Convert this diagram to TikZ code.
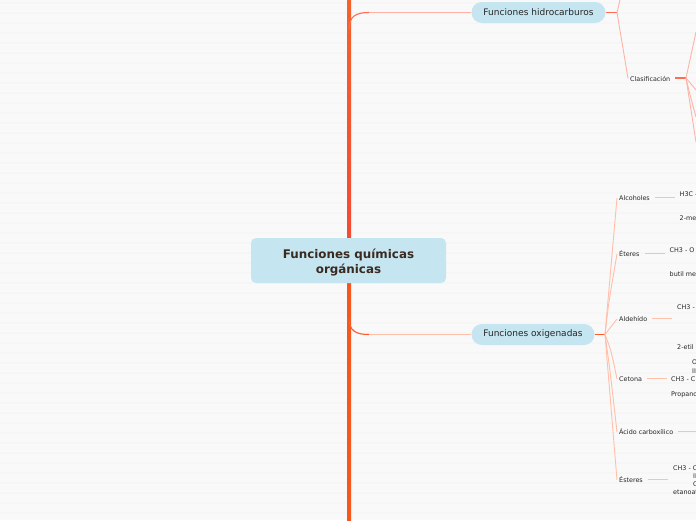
\documentclass[tikz,border=0pt]{standalone}
\usepackage{fontspec}
\setmainfont{DejaVu Sans}
\definecolor{bgc}{HTML}{F9F9F9}
\definecolor{stripe}{HTML}{F6F6F6}
\definecolor{boxc}{HTML}{C5E5F1}
\definecolor{inkc}{HTML}{3A2A20}
\definecolor{linka}{HTML}{FFB3A6}
\definecolor{linkb}{HTML}{FF6B55}
\definecolor{linkc}{HTML}{FFBFA8}
\definecolor{linkd}{HTML}{FF5A2A}
\definecolor{spinea}{HTML}{F4622A}
\definecolor{spineb}{HTML}{F44A36}
\definecolor{spinec}{HTML}{F5581F}
\tikzset{
  x=1pt,y=-1pt,
  hub/.style={draw=none,fill=boxc,rounded corners=5pt,minimum width=195pt,minimum height=45pt,align=center,text=inkc,font=\fontsize{11.9pt}{15pt}\selectfont\bfseries,inner sep=0pt},
  mainbox/.style={draw=none,fill=boxc,rounded corners=10.5pt,minimum height=21pt,text=black!85,font=\fontsize{9pt}{10pt}\selectfont,inner sep=0pt},
  leaf/.style={font=\fontsize{6.4pt}{7pt}\selectfont,text=black!85,inner sep=0pt,anchor=west,yshift=-0.5pt},
  thinred/.style={draw=linka,line width=.9pt},
  thinor/.style={draw=linkc,line width=.9pt},
  stub/.style={draw=linkb,line width=1.1pt},
  stubor/.style={draw=linkd,line width=1.1pt},
  root/.style={line width=1.1pt}
}
\begin{document}
\begin{tikzpicture}
\useasboundingbox (0,0) rectangle (696,520);
\clip (0,0) rectangle (696,520);
\fill[bgc] (0,0) rectangle (696,520);
\foreach \k in {0,...,51}{\fill[stripe] (0,{2+10*\k}) rectangle (696,{4+10*\k});}
% spine
\shade[top color=spinea,middle color=spineb,bottom color=spineb] (347,0) rectangle (351,240);
\shade[top color=spinec,middle color=spinec,bottom color=spinec] (347,280) rectangle (351,520);
\coordinate (spineA) at (349,30);
\coordinate (spineB) at (349,318);
\coordinate (bendA) at (369,12.5);
\coordinate (bendB) at (369,334.5);
% nodes
\node[hub] (hubn) at (348.5,260.5) {\rule{0pt}{13pt}Funciones químicas\\orgánicas};
\node[mainbox,minimum width=134pt] (hc) at (538.5,12.5) {Funciones hidrocarburos};
\node[mainbox,minimum width=123pt] (ox) at (533,334.5) {Funciones oxigenadas};
\coordinate (jh) at (617,12.5);
\coordinate (jo) at (605,334.5);
\coordinate (upend) at (620,0);
\node[leaf] (clas) at (630,78) {Clasificación};
\coordinate (jc) at (686,78);
\coordinate (c1) at (696,32);
\coordinate (c2) at (696,90);
\coordinate (c3) at (696,117);
\coordinate (c4) at (696,142);
\node[leaf] (alc) at (619,197.5) {Alcoholes};
\node[leaf] (ete) at (619,253.5) {Éteres};
\node[leaf] (ald) at (619,318.5) {Aldehído};
\node[leaf] (cet) at (619,378.5) {Cetona};
\node[leaf] (aci) at (619,431.5) {Ácido carboxílico};
\node[leaf] (est) at (619,479.5) {Ésteres};
\node[leaf] (a1) at (679.5,193.5) {H3C -};
\node[leaf] (a2) at (679.5,217.5) {2-me};
\node[leaf] (e1) at (669.5,249.5) {CH3 - O};
\node[leaf] (e2) at (669.5,273.5) {butil me};
\node[leaf] (d1) at (677,306.5) {CH3 -};
\node[leaf] (d2) at (677,346.5) {2-etil};
\node[leaf] (k0) at (692,362) {O};
\node[leaf] (k1) at (692,371) {II};
\node[leaf] (k2) at (671,378.5) {CH3 - C};
\node[leaf] (k3) at (671,394.5) {Propano};
\node[leaf] (s1) at (673,467.5) {CH3 - C};
\node[leaf] (s2) at (693,476) {II};
\node[leaf] (s3) at (693,484) {O};
\node[leaf] (s4) at (673,491.5) {etanoat};
\coordinate (sa1) at (655,197.5); \coordinate (sa2) at (675,197.5);
\coordinate (se1) at (645,253.5); \coordinate (se2) at (665,253.5);
\coordinate (sd1) at (652,318.5); \coordinate (sd2) at (672,318.5);
\coordinate (sk1) at (647,378.5); \coordinate (sk2) at (667,378.5);
\coordinate (sc1) at (678,431.5); \coordinate (sc2) at (696,431.5);
\coordinate (ss1) at (648,479.5); \coordinate (ss2) at (668,479.5);
\coordinate (sj) at (675,78);
% connectors
\draw[thinred] (hc.west) -- (bendA);
\draw[draw=linkb,root] (bendA) .. controls (356,12.5) and (349,16) .. (spineA);
\draw[thinor] (ox.west) -- (bendB);
\draw[draw=linkd,root] (bendB) .. controls (356,334.5) and (349,331) .. (spineB);
\draw[stub] (hc.east) -- (jh);
\draw[thinred] (jh) -- (upend);
\draw[thinred] (jh) -- ([xshift=-2pt]clas.west);
\draw[stub] (sj) -- (jc);
\draw[thinred] (jc) -- (c1);
\draw[thinred] (jc) -- (c2);
\draw[thinred] (jc) .. controls (690,95) .. (c3);
\draw[thinred] (jc) -- (c4);
\draw[stubor] (ox.east) -- (jo);
\draw[thinor] (jo) -- ([xshift=-2pt]alc.west);
\draw[thinor] (jo) .. controls (609,300) .. ([xshift=-2pt]ete.west);
\draw[thinor] (jo) -- ([xshift=-2pt]ald.west);
\draw[thinor] (jo) .. controls (611,350) .. ([xshift=-2pt]cet.west);
\draw[thinor] (jo) .. controls (610,370) .. ([xshift=-2pt]aci.west);
\draw[thinor] (jo) -- ([xshift=-2pt]est.west);
\draw[thinor] (sa1) -- (sa2);
\draw[thinor] (se1) -- (se2);
\draw[thinor] (sd1) -- (sd2);
\draw[thinor] (sk1) -- (sk2);
\draw[thinor] (sc1) -- (sc2);
\draw[thinor] (ss1) -- (ss2);
\end{tikzpicture}
\end{document}
